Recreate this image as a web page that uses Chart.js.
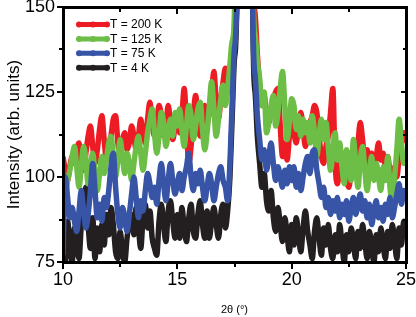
<!DOCTYPE html>
<html>
<head>
<meta charset="utf-8">
<script src="https://cdn.jsdelivr.net/npm/chart.js@4.4.1/dist/chart.umd.min.js"></script>
<style>
html, body { margin: 0; padding: 0; background: #fff; }
#wrap { position: relative; width: 416px; height: 317px; }
#wrap canvas { position: absolute; left: 0; top: 0; }
.mark { position: absolute; background: #000; }
</style>
</head>
<body>
<div id="wrap"><canvas id="chart" width="416" height="317"></canvas></div>
<script>
"use strict";

const twoTheta = [
    10.0, 10.1, 10.2, 10.3, 10.4, 10.5, 10.6, 10.7, 10.8, 10.9,
    11.0, 11.1, 11.2, 11.3, 11.4, 11.5, 11.6, 11.7, 11.8, 11.9,
    12.0, 12.1, 12.2, 12.3, 12.4, 12.5, 12.6, 12.7, 12.8, 12.9,
    13.0, 13.1, 13.2, 13.3, 13.4, 13.5, 13.6, 13.7, 13.8, 13.9,
    14.0, 14.1, 14.2, 14.3, 14.4, 14.5, 14.6, 14.7, 14.8, 14.9,
    15.0, 15.1, 15.2, 15.3, 15.4, 15.5, 15.6, 15.7, 15.8, 15.9,
    16.0, 16.1, 16.2, 16.3, 16.4, 16.5, 16.6, 16.7, 16.8, 16.9,
    17.0, 17.1, 17.2, 17.3, 17.4, 17.5, 17.6, 17.7, 17.8, 17.9,
    18.0, 18.1, 18.2, 18.3, 18.4, 18.5, 18.6, 18.7, 18.8, 18.9,
    19.0, 19.1, 19.2, 19.3, 19.4, 19.5, 19.6, 19.7, 19.8, 19.9,
    20.0, 20.1, 20.2, 20.3, 20.4, 20.5, 20.6, 20.7, 20.8, 20.9,
    21.0, 21.1, 21.2, 21.3, 21.4, 21.5, 21.6, 21.7, 21.8, 21.9,
    22.0, 22.1, 22.2, 22.3, 22.4, 22.5, 22.6, 22.7, 22.8, 22.9,
    23.0, 23.1, 23.2, 23.3, 23.4, 23.5, 23.6, 23.7, 23.8, 23.9,
    24.0, 24.1, 24.2, 24.3, 24.4, 24.5, 24.6, 24.7, 24.8, 24.9,
    25.0
];

const t200 = [
    106, 102, 99, 103, 106, 104, 108, 110, 104, 102,
    107, 112, 115, 109, 104, 108, 114, 118, 111, 105,
    107, 112, 117, 118, 110, 106, 111, 113, 108, 110,
    115, 112, 108, 112, 117, 112, 110, 117, 122, 116,
    112, 116, 121, 118, 112, 115, 121, 116, 111, 115,
    119, 113, 118, 126, 115, 104, 109, 118, 124, 117,
    112, 117, 121, 116, 119, 125, 131, 122, 117, 123,
    128, 132, 126, 131, 137, 143, 149, 400, 800, 900,
    900, 800, 500, 170, 148, 136, 127, 121, 124, 118,
    116, 120, 123, 125, 126, 115, 106, 110, 105, 112,
    118, 113, 110, 115, 119, 114, 109, 113, 116, 118,
    121, 119, 112, 106, 104, 109, 112, 119, 126, 104,
    98, 103, 107, 102, 99, 97, 102, 107, 104, 110,
    116, 111, 105, 108, 104, 107, 103, 106, 110, 105,
    107, 103, 106, 101, 97, 103, 100, 106, 110, 113,
    110
];

const t125 = [
    98, 95, 99, 102, 106, 109, 103, 97, 103, 109,
    105, 98, 103, 107, 101, 96, 101, 106, 101, 105,
    110, 112, 106, 100, 105, 111, 106, 101, 107, 104,
    99, 104, 109, 112, 107, 102, 107, 113, 117, 120,
    113, 107, 112, 119, 116, 109, 113, 117, 112, 119,
    115, 120, 114, 109, 115, 121, 118, 111, 115, 120,
    122, 114, 108, 113, 121, 128, 120, 112, 117, 123,
    127, 121, 126, 133, 140, 149, 420, 800, 900, 900,
    900, 800, 450, 160, 142, 134, 129, 121, 125, 113,
    116, 121, 124, 115, 119, 126, 131, 121, 111, 116,
    123, 121, 114, 118, 112, 117, 113, 116, 110, 118,
    113, 106, 112, 117, 111, 116, 109, 102, 107, 113,
    105, 110, 103, 98, 108, 104, 99, 111, 104, 97,
    105, 109, 102, 96, 102, 106, 99, 104, 100, 96,
    103, 99, 106, 97, 91, 100, 108, 117, 110, 104,
    107
];

const t75 = [
    77, 100, 94, 88, 91, 87, 84, 90, 96, 90,
    85, 89, 96, 104, 96, 88, 92, 87, 94, 91,
    96, 103, 107, 97, 89, 85, 91, 88, 84, 89,
    95, 100, 94, 88, 93, 90, 96, 101, 98, 94,
    97, 92, 99, 104, 98, 93, 99, 104, 99, 95,
    98, 101, 96, 100, 103, 107, 100, 96, 101, 98,
    102, 97, 93, 97, 101, 98, 93, 97, 101, 103,
    99, 97, 93, 104, 122, 138, 155, 400, 800, 900,
    900, 800, 500, 150, 130, 118, 111, 105, 108, 102,
    106, 110, 104, 99, 103, 100, 97, 102, 98, 103,
    99, 103, 97, 101, 96, 100, 104, 106, 101, 107,
    108, 102, 98, 94, 97, 91, 94, 89, 93, 90,
    94, 88, 92, 89, 93, 87, 91, 94, 89, 92,
    95, 90, 93, 88, 92, 86, 90, 93, 88, 91,
    87, 92, 89, 94, 88, 91, 95, 98, 92, 96,
    94
];

const t4 = [
    80, 75, 87, 80, 75, 85, 80, 76, 86, 93,
    97, 86, 79, 88, 76, 85, 78, 86, 80, 89,
    83, 91, 86, 78, 76, 84, 78, 75, 82, 87,
    89, 83, 91, 85, 79, 88, 92, 85, 90, 82,
    79, 77, 87, 92, 86, 81, 90, 93, 87, 82,
    89, 82, 91, 85, 81, 88, 92, 84, 82, 89,
    93, 86, 82, 90, 82, 87, 91, 86, 82, 89,
    92, 85, 90, 100, 118, 135, 152, 400, 800, 900,
    900, 800, 500, 148, 125, 112, 104, 97, 101, 93,
    90, 96, 88, 84, 91, 86, 81, 88, 83, 78,
    86, 80, 88, 83, 78, 85, 90, 84, 80, 76,
    84, 88, 82, 77, 85, 80, 86, 79, 76, 83,
    78, 86, 80, 75, 83, 78, 85, 81, 76, 84,
    79, 86, 81, 76, 84, 79, 75, 83, 78, 85,
    80, 76, 84, 79, 86, 81, 76, 85, 80, 87,
    83
];

const seriesLabels = ["T = 200 K", "T = 125 K", "T = 75 K", "T = 4 K"];
const seriesColors = ["rgb(237,28,36)", "rgb(108,190,70)", "rgb(56,84,166)", "rgb(35,31,32)"];
const seriesData = [t200, t125, t75, t4];
// blue on top, black at the bottom
const drawOrder = [2, 1, 0, 3];

const xMajor = [10, 15, 20, 25];
const xMinor = [12.5, 17.5, 22.5];
const yMajor = [75, 100, 125, 150];
const yMinor = [87.5, 112.5, 137.5];

const fontFamily = "'Liberation Sans', Arial, sans-serif";

function toPoints(values) {
    return values.map((v, i) => ({x: twoTheta[i], y: v}));
}

function drawLegend(chart) {
    let ctx = chart.ctx;
    ctx.font = "12px " + fontFamily;
    ctx.textBaseline = "middle";
    ctx.textAlign = "left";
    seriesLabels.forEach((label, i) => {
        let yy = 24.5 + i * 14.4;
        ctx.strokeStyle = seriesColors[i];
        ctx.fillStyle = seriesColors[i];
        ctx.lineWidth = 5;
        ctx.lineCap = "round";
        ctx.beginPath();
        ctx.moveTo(79, yy);
        ctx.lineTo(107, yy);
        ctx.stroke();
        [79, 93, 107].forEach(px => {
            ctx.beginPath();
            ctx.arc(px, yy, 3, 0, Math.PI * 2);
            ctx.fill();
        });
        ctx.fillStyle = "#000";
        ctx.fillText(label, 110, yy + 0.5);
    });
}

const legendPlugin = {
    id: "lineLegend",
    afterDatasetsDraw(chart) {
        chart.ctx.save();
        drawLegend(chart);
        chart.ctx.restore();
    }
};

// frame and tick marks laid over the canvas, placed from the chart's own scales
// ticks point out on bottom/left, in on top/right
function addFrame(chart) {
    let wrap = document.getElementById("wrap");
    let a = chart.chartArea;
    let xs = chart.scales.x;
    let ys = chart.scales.y;
    let left = Math.round(a.left), right = Math.round(a.right);
    let top = Math.round(a.top), bottom = Math.round(a.bottom);
    let box = (x, y, w, h) => {
        let d = document.createElement("div");
        d.className = "mark";
        d.style.left = x + "px";
        d.style.top = y + "px";
        d.style.width = w + "px";
        d.style.height = h + "px";
        wrap.appendChild(d);
    };
    box(left - 1, top - 1, right - left + 3, 3);
    box(left - 1, bottom - 1, right - left + 3, 3);
    box(left - 1, top - 1, 3, bottom - top + 3);
    box(right - 1, top - 1, 3, bottom - top + 3);
    let xtick = (v, l) => {
        let px = Math.round(xs.getPixelForValue(v));
        box(px - 1, bottom + 2, 2, l);
        box(px - 1, top + 2, 2, l);
    };
    let ytick = (v, l) => {
        let py = Math.round(ys.getPixelForValue(v));
        box(left - 1 - l, py - 1, l, 2);
        box(right - l, py - 1, l, 2);
    };
    xMajor.forEach(v => xtick(v, 5));
    xMinor.forEach(v => xtick(v, 3));
    yMajor.forEach(v => ytick(v, 5));
    yMinor.forEach(v => ytick(v, 3));
}

const datasets = seriesData.map((vals, i) => ({
    label: seriesLabels[i],
    data: toPoints(vals),
    borderColor: seriesColors[i],
    backgroundColor: seriesColors[i],
    borderWidth: 5.5,
    borderJoinStyle: "round",
    pointRadius: 0,
    cubicInterpolationMode: "monotone",
    fill: false,
    order: drawOrder[i]
}));

let chart = new Chart(document.getElementById("chart").getContext("2d"), {
    type: "line",
    data: {datasets: datasets},
    plugins: [legendPlugin],
    options: {
        responsive: false,
        animation: false,
        events: [],
        layout: {padding: {top: 7, right: 10, left: 0, bottom: 0}},
        plugins: {legend: {display: false}, tooltip: {enabled: false}},
        scales: {
            x: {
                type: "linear",
                min: 10,
                max: 25,
                grid: {display: false, drawTicks: false},
                border: {display: false},
                ticks: {
                    stepSize: 5,
                    padding: 7,
                    color: "#000",
                    font: {size: 18, family: fontFamily}
                },
                title: {
                    display: true,
                    text: "2θ (°)",
                    color: "#000",
                    font: {size: 11, family: fontFamily},
                    padding: {top: 0, bottom: 0}
                },
                afterFit: s => {
                    s.height = 55;
                    s.paddingLeft = 0;
                    s.paddingRight = 0;
                }
            },
            y: {
                min: 75,
                max: 150,
                grid: {display: false, drawTicks: false},
                border: {display: false},
                ticks: {
                    stepSize: 25,
                    padding: 8,
                    color: "#000",
                    font: {size: 18, family: fontFamily}
                },
                title: {
                    display: true,
                    text: "Intensity (arb. units)",
                    color: "#000",
                    font: {size: 17, family: fontFamily},
                    padding: {top: 4, bottom: 0}
                },
                afterFit: s => {
                    s.width = 63;
                    s.paddingTop = 0;
                    s.paddingBottom = 0;
                }
            }
        }
    }
});

addFrame(chart);
</script>
</body>
</html>
